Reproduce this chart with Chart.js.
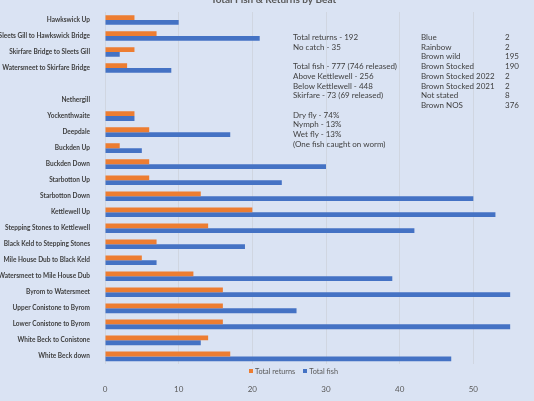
<!DOCTYPE html>
<html lang="en">
<head>
    <meta charset="UTF-8">
    <title>Total Fish & Returns by Beat</title>
    <script src="https://cdn.jsdelivr.net/npm/chart.js"></script>
    <style>
        html, body { margin: 0; padding: 0; overflow: hidden; background: #dae3f3; }
        body { width: 534px; height: 401px; position: relative; font-family: Lato, sans-serif; }
        #wrap { position: absolute; left: 0; top: -6px; width: 575px; height: 424px; }
        .notes { position: absolute; font-size: 8px; line-height: 9.7px; color: #404040; white-space: pre; }
        #legend { position: absolute; left: 249px; top: 367px; font-size: 7.3px; color: #595959; }
        #legend span.sw { display: inline-block; width: 4px; height: 4px; margin-right: 2px; vertical-align: 1px; }
        #legend span.item { margin-right: 8px; }
    </style>
</head>
<body>
    <div id="wrap"><canvas id="fishChart"></canvas></div>
    <div id="notesLeft" class="notes" style="left: 293px; top: 33px;"></div>
    <div id="speciesNames" class="notes" style="left: 421px; top: 33px;"></div>
    <div id="speciesCounts" class="notes" style="left: 505px; top: 33px;"></div>
    <div id="legend"></div>
    <script>
        // beats top to bottom, the empty one is the gap in the chart
        const beats = [
            'Hawkswick Up', 'Sleets Gill to Hawkswick Bridge', 'Skirfare Bridge to Sleets Gill',
            'Watersmeet to Skirfare Bridge', '', 'Nethergill', 'Yockenthwaite', 'Deepdale',
            'Buckden Up', 'Buckden Down', 'Starbotton Up', 'Starbotton Down', 'Kettlewell Up',
            'Stepping Stones to Kettlewell', 'Black Keld to Stepping Stones', 'Mile House Dub to Black Keld',
            'Watersmeet to Mile House Dub', 'Byrom to Watersmeet', 'Upper Conistone to Byrom',
            'Lower Conistone to Byrom', 'White Beck to Conistone', 'White Beck down'
        ];
        const totalReturns = [4, 7, 4, 3, null, 0, 4, 6, 2, 6, 6, 13, 20, 14, 7, 5, 12, 16, 16, 16, 14, 17];
        const totalFish = [10, 21, 2, 9, null, 0, 4, 17, 5, 30, 24, 50, 53, 42, 19, 7, 39, 55, 26, 55, 13, 47];

        const notesLeft = [
            'Total returns - 192', 'No catch - 35', '',
            'Total fish - 777 (746 released)', 'Above Kettlewell - 256', 'Below Kettlewell - 448',
            'Skirfare - 73 (69 released)', '',
            'Dry fly - 74%', 'Nymph - 13%', 'Wet fly - 13%', '(One fish caught on worm)'
        ];
        const speciesNames = ['Blue', 'Rainbow', 'Brown wild', 'Brown Stocked', 'Brown Stocked 2022',
            'Brown Stocked 2021', 'Not stated', 'Brown NOS'];
        const speciesCounts = [2, 2, 195, 190, 2, 2, 8, 376];

        document.getElementById('notesLeft').textContent = notesLeft.join('\n');
        document.getElementById('speciesNames').textContent = speciesNames.join('\n');
        document.getElementById('speciesCounts').textContent = speciesCounts.join('\n');

        const ctx = document.getElementById('fishChart').getContext('2d');

        // the beat names use a narrow bold face, pick one that exists and size it so the longest fits
        let labelFamily = 'Lato';
        ctx.font = 'bold 20px monospace';
        const monoW = ctx.measureText('Sleets Gill to Hawkswick Bridge').width;
        ctx.font = "bold 20px 'Liberation Sans Narrow', monospace";
        if (ctx.measureText('Sleets Gill to Hawkswick Bridge').width !== monoW) labelFamily = 'Liberation Sans Narrow';
        ctx.font = "bold 20px '" + labelFamily + "'";
        let widest = 0;
        beats.forEach(function(b) { widest = Math.max(widest, ctx.measureText(b).width); });
        const labelSize = Math.min(8, 20 * 92 / widest);

        const chart = new Chart(ctx, {
            type: 'bar',
            data: {
                labels: beats,
                datasets: [
                    { label: 'Total returns', data: totalReturns, backgroundColor: '#ed7d31' },
                    { label: 'Total fish', data: totalFish, backgroundColor: '#4472c4' }
                ]
            },
            options: {
                indexAxis: 'y',
                responsive: true,
                maintainAspectRatio: false,
                animation: false,
                categoryPercentage: 0.6,
                barPercentage: 1,
                layout: { padding: { left: 0, right: 28, bottom: 4 } },
                scales: {
                    x: {
                        min: 0,
                        max: 60,
                        ticks: { stepSize: 10, padding: 20, color: '#595959', font: { family: 'Lato', size: 8 } },
                        grid: { color: '#d0d6e1', drawTicks: false },
                        border: { display: false }
                    },
                    y: {
                        afterFit: function(scale) { scale.width = 105; },
                        ticks: { padding: 7, color: '#404040', autoSkip: false, font: { family: labelFamily, size: labelSize, weight: 'bold' } },
                        grid: { display: false },
                        border: { display: false }
                    }
                },
                plugins: {
                    legend: { display: false },
                    tooltip: { enabled: false },
                    title: {
                        display: true,
                        text: 'Total Fish & Returns by Beat',
                        color: '#595959',
                        font: { family: 'Lato', size: 10, weight: 'bold' },
                        padding: { top: 0, bottom: 6 }
                    }
                }
            }
        });

        // legend drawn between plot and axis labels like the original
        const legend = document.getElementById('legend');
        chart.data.datasets.forEach(function(ds) {
            const item = document.createElement('span');
            item.className = 'item';
            const sw = document.createElement('span');
            sw.className = 'sw';
            sw.style.background = ds.backgroundColor;
            item.appendChild(sw);
            item.appendChild(document.createTextNode(ds.label));
            legend.appendChild(item);
        });
    </script>
</body>
</html>
